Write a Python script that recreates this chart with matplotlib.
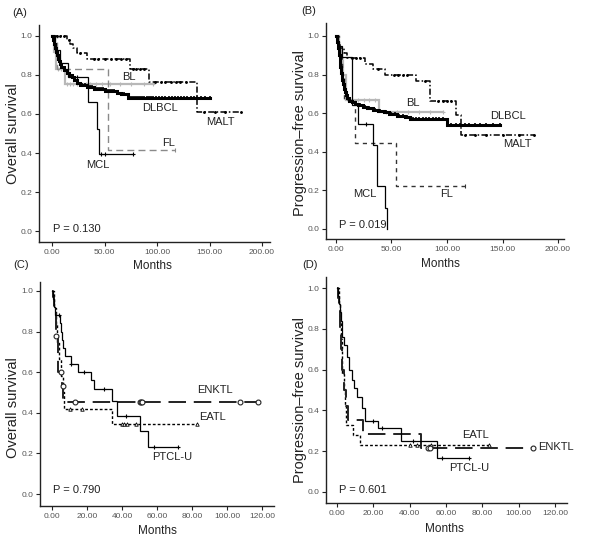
import numpy as np
import matplotlib
matplotlib.use('Agg')
import matplotlib.pyplot as plt
from matplotlib.ticker import FormatStrFormatter

# ---------------- Panel A: overall survival (B-cell) ----------------
a_dlbcl_t = [0.5, 1, 1.5, 2, 2.5, 3, 3.5, 4.5, 5.5, 6.5, 7.5, 9, 11, 14, 16.5, 19, 21, 23.5, 27, 33, 40, 50, 62, 66, 72]
a_dlbcl_s = [0.99, 0.98, 0.97, 0.96, 0.95, 0.94, 0.92, 0.90, 0.88, 0.87, 0.855, 0.84, 0.825, 0.81, 0.80, 0.79, 0.775, 0.76, 0.75, 0.74, 0.73, 0.72, 0.71, 0.70, 0.68]
a_dlbcl_end = 150
a_dlbcl_c = [17, 20, 22, 25, 27, 29, 31, 34, 36, 38, 41, 43, 45, 47, 49, 51, 53, 55, 57, 59, 63, 67, 69, 74, 76, 78, 80, 82, 84, 86,
             88, 90, 92, 94, 96, 99, 102, 105, 108, 111, 114, 117, 120, 123, 126, 129, 132, 135, 138, 142, 146, 150]

a_malt_t = [14, 17, 20, 23.5, 33, 74, 92, 138]
a_malt_s = [0.98, 0.96, 0.94, 0.91, 0.88, 0.83, 0.765, 0.61]
a_malt_end = 180
a_malt_c = [2, 5, 8, 11, 16, 27, 40, 44, 50, 56, 61, 66, 70, 77, 80, 84, 88, 98, 104, 108, 113, 118, 122, 128, 145, 155, 165, 180]

a_bl_t = [2, 4, 12]
a_bl_s = [0.92, 0.83, 0.755]
a_bl_end = 96
a_bl_c = [6, 9, 14, 17, 20, 24, 28, 32, 36, 42, 48, 55, 65, 75, 88, 96]

a_fl_t = [5, 53]
a_fl_s = [0.833, 0.417]
a_fl_end = 117
a_fl_c = [117]

a_mcl_t = [3, 8, 15, 34, 42.5, 44.5]
a_mcl_s = [0.93, 0.86, 0.79, 0.66, 0.525, 0.395]
a_mcl_end = 77
a_mcl_c = [24, 47, 50, 77]

# ---------------- Panel B: progression-free survival (B-cell) ----------------
b_dlbcl_t = [0.5, 1, 1.5, 2, 2.5, 3, 3.5, 4, 4.5, 5, 5.5, 6, 7, 8, 9, 10, 12, 14, 17, 20, 24, 28, 33, 38, 43, 48, 55, 62, 67, 100]
b_dlbcl_s = [0.985, 0.97, 0.955, 0.94, 0.92, 0.90, 0.87, 0.84, 0.81, 0.79, 0.77, 0.75, 0.725, 0.71, 0.695, 0.68, 0.665, 0.656,
             0.647, 0.64, 0.632, 0.625, 0.617, 0.61, 0.604, 0.595, 0.585, 0.578, 0.568, 0.54]
b_dlbcl_end = 148
b_dlbcl_c = [15, 18, 22, 26, 30, 35, 40, 45, 50, 53, 57, 60, 64, 69, 72, 75, 78, 81, 84, 87, 90, 93, 96, 104, 108, 112, 116,
             120, 125, 130, 135, 141, 148]

b_malt_t = [2, 4, 7, 10, 26, 33, 44, 72, 85, 108, 113]
b_malt_s = [0.97, 0.94, 0.91, 0.885, 0.855, 0.83, 0.80, 0.765, 0.665, 0.59, 0.485]
b_malt_end = 178
b_malt_c = [14, 18, 22, 38, 52, 56, 60, 64, 80, 92, 96, 100, 104, 116, 125, 135, 150, 165, 178]

b_bl_t = [3, 5, 6.5, 9, 38.5]
b_bl_s = [0.93, 0.87, 0.80, 0.67, 0.605]
b_bl_end = 96
b_bl_c = [20, 25, 30, 35, 45, 55, 65, 75, 85, 96]

b_fl_t = [3, 5, 7, 17, 54]
b_fl_s = [0.89, 0.78, 0.67, 0.445, 0.222]
b_fl_end = 116
b_fl_c = [116]

b_mcl_t = [2, 5, 14, 20, 33, 36.5, 44, 46]
b_mcl_s = [0.95, 0.89, 0.64, 0.545, 0.435, 0.22, 0.11, 0.0]
b_mcl_end = 46
b_mcl_c = [27]

# ---------------- Panel C: overall survival (T-cell) ----------------
c_enktl_t = [0.5, 1, 2, 3.5, 5.5, 6.3]
c_enktl_s = [0.97, 0.89, 0.78, 0.60, 0.53, 0.455]
c_enktl_end = 117.5
c_enktl_c = [2.5, 5, 6, 13, 50, 50.7, 51.4, 107.5, 117.5]

c_eatl_t = [1, 2, 3, 4, 5, 6, 7, 34.5]
c_eatl_s = [0.917, 0.833, 0.75, 0.667, 0.583, 0.5, 0.417, 0.347]
c_eatl_end = 83
c_eatl_c = [10, 17, 40, 41, 43, 48, 83]

c_ptcl_t = [0.5, 1, 1.5, 4.5, 5, 5.5, 6.5, 7.5, 10.7, 14.9, 22.5, 24, 34.5, 37, 50, 55]
c_ptcl_s = [0.96, 0.92, 0.88, 0.84, 0.80, 0.76, 0.72, 0.68, 0.64, 0.60, 0.56, 0.515, 0.46, 0.385, 0.31, 0.23]
c_ptcl_end = 72
c_ptcl_c = [4.2, 10.7, 18.3, 29.7, 42.3, 58.3, 72]

# ---------------- Panel D: progression-free survival (T-cell) ----------------
d_enktl_t = [0.5, 1, 1.5, 2, 3, 4, 5, 6, 14.5, 46]
d_enktl_s = [0.95, 0.90, 0.80, 0.70, 0.60, 0.50, 0.42, 0.353, 0.285, 0.214]
d_enktl_end = 108
d_enktl_c = [50, 51, 108]

d_eatl_t = [1, 1.5, 2, 2.5, 3, 4, 4.5, 5, 9, 12.6]
d_eatl_s = [0.92, 0.83, 0.75, 0.67, 0.58, 0.50, 0.42, 0.33, 0.28, 0.23]
d_eatl_end = 83.6
d_eatl_c = [40, 44, 52, 83.6]

d_ptcl_t = [0.5, 1, 1.5, 2, 2.5, 3, 4, 5.5, 6.5, 8, 9.5, 10.8, 13.6, 15.4, 22.6, 35.5, 55]
d_ptcl_s = [0.96, 0.92, 0.88, 0.84, 0.80, 0.76, 0.72, 0.66, 0.60, 0.55, 0.51, 0.467, 0.41, 0.35, 0.315, 0.25, 0.168]
d_ptcl_end = 72.6
d_ptcl_c = [20, 25, 42, 58, 72.6]

W, H = 600, 543
fig = plt.figure(figsize=(6.0, 5.43), dpi=100)
plt.rcParams['font.family'] = ['Liberation Sans', 'DejaVu Sans']


def add_axes(l, r, t, b):
    return fig.add_axes([l / W, 1 - b / H, (r - l) / W, (b - t) / H])


def km(ax, t, s, end, cens, color='black', lw=1.0, ls='-', marker='|', ms=3, mfc=None, mew=0.8):
    tt = [0.0] + list(t) + [end]
    ss = [1.0] + list(s) + [s[-1]]
    ax.step(tt, ss, where='post', color=color, lw=lw, linestyle=ls, solid_joinstyle='miter')
    if cens:
        idx = np.searchsorted(np.asarray(t), np.asarray(cens), side='right')
        cy = np.array([1.0] + list(s))[idx]
        ax.plot(cens, cy, linestyle='none', marker=marker, ms=ms, color=color,
                mfc=mfc if mfc is not None else color, mew=mew)


def style(ax, xmax_tick, xstep, xlim, ylim, ylabel, xlab_pos, ylab_pos):
    ax.set_xlim(*xlim)
    ax.set_ylim(*ylim)
    for sp in ['top', 'right']:
        ax.spines[sp].set_visible(False)
    for sp in ['left', 'bottom']:
        ax.spines[sp].set_linewidth(1.0)
        ax.spines[sp].set_color('#222222')
    ax.set_xticks(np.arange(0, xmax_tick + 0.1, xstep))
    ax.set_yticks(np.arange(0, 1.01, 0.2))
    ax.xaxis.set_major_formatter(FormatStrFormatter('%.2f'))
    ax.yaxis.set_major_formatter(FormatStrFormatter('%.1f'))
    ax.tick_params(labelsize=6, labelcolor='#555555', length=3, width=0.8, color='#222222', pad=2)
    ax.set_xlabel('Months', fontsize=8.5, color='#222222')
    ax.set_ylabel(ylabel, fontsize=10.5, color='#222222')
    ax.xaxis.set_label_coords(*xlab_pos)
    ax.yaxis.set_label_coords(*ylab_pos)


lab_kw = dict(fontsize=8, color='#222222')

# ---- A ----
axA = add_axes(39, 270, 25, 242)
km(axA, a_bl_t, a_bl_s, a_bl_end, a_bl_c, color='#b8b8b8', lw=1.6, marker='+', ms=3.5)
km(axA, a_fl_t, a_fl_s, a_fl_end, a_fl_c, color='#8a8a8a', lw=1.0, ls=(0, (5, 3)), marker='|', ms=3)
km(axA, a_malt_t, a_malt_s, a_malt_end, a_malt_c, color='black', lw=1.1, ls=(0, (4, 1.5, 1, 1.5)), marker='.', ms=2.5)
km(axA, a_mcl_t, a_mcl_s, a_mcl_end, a_mcl_c, color='black', lw=0.9, marker='+', ms=3)
km(axA, a_dlbcl_t, a_dlbcl_s, a_dlbcl_end, a_dlbcl_c, color='black', lw=2.2, marker='|', ms=3.5, mew=1.2)
style(axA, 200, 50, (-12.4, 207.6), (-0.056, 1.056), 'Overall survival', (0.49, -0.083), (-0.082, 0.50))
axA.text(73, 0.79, 'BL', ha='center', va='center', **lab_kw)
axA.text(103, 0.63, 'DLBCL', ha='center', va='center', **lab_kw)
axA.text(160, 0.56, 'MALT', ha='center', va='center', **lab_kw)
axA.text(111, 0.45, 'FL', ha='center', va='center', **lab_kw)
axA.text(44, 0.34, 'MCL', ha='center', va='center', **lab_kw)
axA.text(1, 0.01, 'P = 0.130', ha='left', va='center', **lab_kw)

# ---- B ----
axB = add_axes(326, 564, 23, 239)
km(axB, b_bl_t, b_bl_s, b_bl_end, b_bl_c, color='#b8b8b8', lw=1.6, marker='+', ms=3.5)
km(axB, b_fl_t, b_fl_s, b_fl_end, b_fl_c, color='#333333', lw=1.0, ls=(0, (3, 3)), marker='|', ms=3)
km(axB, b_malt_t, b_malt_s, b_malt_end, b_malt_c, color='black', lw=1.1, ls=(0, (4, 1.5, 1, 1.5)), marker='.', ms=2.5)
km(axB, b_mcl_t, b_mcl_s, b_mcl_end, b_mcl_c, color='black', lw=0.9, marker='+', ms=3)
km(axB, b_dlbcl_t, b_dlbcl_s, b_dlbcl_end, b_dlbcl_c, color='black', lw=2.2, marker='|', ms=3.5, mew=1.2)
style(axB, 200, 50, (-9.0, 205.4), (-0.052, 1.067), 'Progression\u2013free survival', (0.48, -0.088), (-0.080, 0.49))
axB.text(69, 0.65, 'BL', ha='center', va='center', **lab_kw)
axB.text(155, 0.585, 'DLBCL', ha='center', va='center', **lab_kw)
axB.text(163, 0.44, 'MALT', ha='center', va='center', **lab_kw)
axB.text(100, 0.18, 'FL', ha='center', va='center', **lab_kw)
axB.text(26, 0.18, 'MCL', ha='center', va='center', **lab_kw)
axB.text(3, 0.02, 'P = 0.019', ha='left', va='center', **lab_kw)

# ---- C ----
axC = add_axes(40, 274, 282, 506)
km(axC, c_eatl_t, c_eatl_s, c_eatl_end, c_eatl_c, color='black', lw=1.0, ls=(0, (2, 1.5)), marker='^', ms=2.5, mfc='white', mew=0.6)
km(axC, c_enktl_t, c_enktl_s, c_enktl_end, c_enktl_c, color='#222222', lw=1.4, ls=(0, (9, 4)), marker='o', ms=3.5, mfc='white', mew=0.8)
km(axC, c_ptcl_t, c_ptcl_s, c_ptcl_end, c_ptcl_c, color='black', lw=0.9, marker='+', ms=3)
style(axC, 120, 20, (-6.9, 126.9), (-0.059, 1.044), 'Overall survival', (0.50, -0.085), (-0.085, 0.44))
axC.text(93, 0.51, 'ENKTL', ha='center', va='center', **lab_kw)
axC.text(92, 0.38, 'EATL', ha='center', va='center', **lab_kw)
axC.text(68.5, 0.18, 'PTCL-U', ha='center', va='center', **lab_kw)
axC.text(0.6, 0.02, 'P = 0.790', ha='left', va='center', **lab_kw)

# ---- D ----
axD = add_axes(326, 567, 277, 503)
km(axD, d_eatl_t, d_eatl_s, d_eatl_end, d_eatl_c, color='black', lw=1.0, ls=(0, (2, 1.5)), marker='^', ms=2.5, mfc='white', mew=0.6)
km(axD, d_enktl_t, d_enktl_s, d_enktl_end, d_enktl_c, color='#222222', lw=1.4, ls=(0, (9, 4)), marker='o', ms=3.5, mfc='white', mew=0.8)
km(axD, d_ptcl_t, d_ptcl_s, d_ptcl_end, d_ptcl_c, color='black', lw=0.9, marker='+', ms=3)
style(axD, 120, 20, (-6.05, 126.6), (-0.054, 1.054), 'Progression\u2013free survival', (0.49, -0.087), (-0.079, 0.456))
axD.text(76.5, 0.28, 'EATL', ha='center', va='center', **lab_kw)
axD.text(110.6, 0.22, 'ENKTL', ha='left', va='center', **lab_kw)
axD.text(72.6, 0.12, 'PTCL-U', ha='center', va='center', **lab_kw)
axD.text(1, 0.01, 'P = 0.601', ha='left', va='center', **lab_kw)

# panel letters
fig.text(12 / W, 1 - 13 / H, '(A)', fontsize=8, va='center', ha='left', color='#222222')
fig.text(301 / W, 1 - 11 / H, '(B)', fontsize=8, va='center', ha='left', color='#222222')
fig.text(13 / W, 1 - 265 / H, '(C)', fontsize=8, va='center', ha='left', color='#222222')
fig.text(302 / W, 1 - 265 / H, '(D)', fontsize=8, va='center', ha='left', color='#222222')

fig.savefig('out.png', dpi=100, facecolor='white')
